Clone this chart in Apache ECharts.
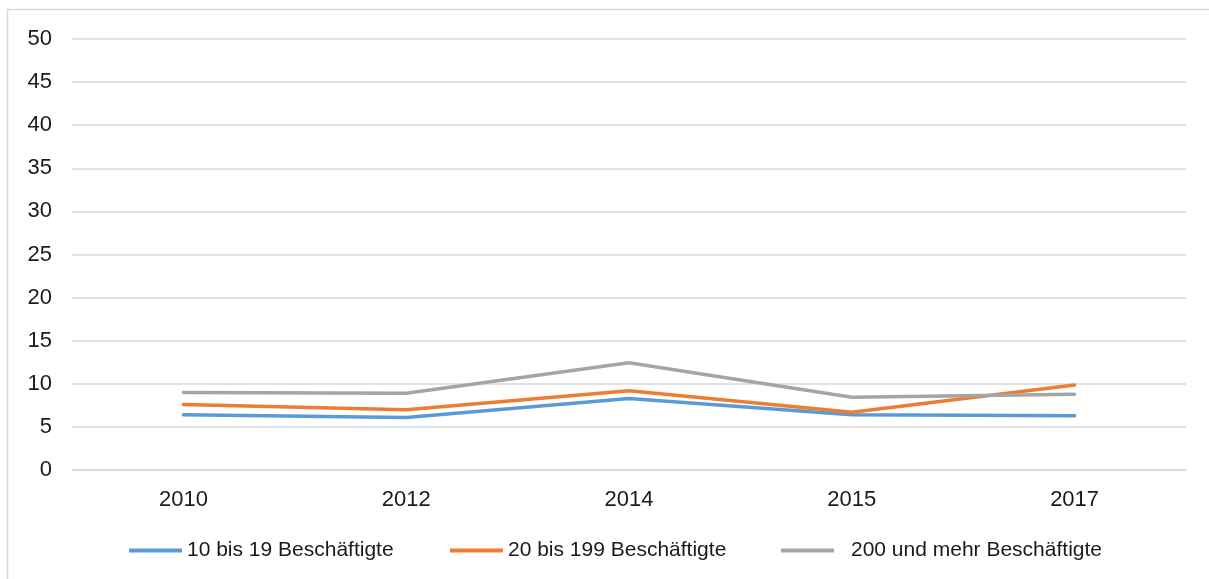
<!DOCTYPE html>
<html>
<head>
<meta charset="utf-8">
<script src="https://cdn.jsdelivr.net/npm/echarts@6/dist/echarts.min.js"></script>
<style>html,body{margin:0;padding:0;background:#fff;}#c{width:1209px;height:579px;}</style>
</head>
<body>
<div id="c"></div>
<script>
const categories = ['2010', '2012', '2014', '2015', '2017'];
const seriesNames = ['10 bis 19 Beschäftigte', '20 bis 199 Beschäftigte', '200 und mehr Beschäftigte'];
const values10to19 = [6.4, 6.1, 8.3, 6.4, 6.3];
const values20to199 = [7.6, 7.0, 9.2, 6.7, 9.85];
const values200plus = [9.0, 8.9, 12.45, 8.45, 8.8];
const yTicks = [0, 5, 10, 15, 20, 25, 30, 35, 40, 45, 50];
const colors = ['#5B9BD5', '#ED7D31', '#A5A5A5'];

const font = '"Liberation Sans", Arial, sans-serif';
const chart = echarts.init(document.getElementById('c'));
const allValues = [values10to19, values20to199, values200plus];

function legendAt(i, left, pad) {
  return {
    data: [seriesNames[i]],
    left: left,
    top: 540,
    icon: 'rect',
    itemWidth: 53,
    itemHeight: 4,
    itemGap: 0,
    padding: 0,
    textStyle: { fontFamily: font, fontSize: 21, color: '#1a1a1a', padding: [0, 0, 0, pad] },
    selectedMode: false
  };
}

chart.setOption({
  animation: false,
  backgroundColor: '#fff',
  color: colors,
  graphic: [{
    type: 'rect',
    shape: { x: 7.5, y: 9.5, width: 1240, height: 600 },
    style: { fill: 'none', stroke: '#d9d9d9', lineWidth: 1.5 },
    silent: true
  }],
  grid: { left: 72, right: 23, top: 39, bottom: 109, containLabel: false },
  legend: [legendAt(0, 129, 0), legendAt(1, 450, 0), legendAt(2, 781, 12)],
  xAxis: {
    type: 'category',
    data: categories,
    boundaryGap: true,
    axisLine: { show: true, lineStyle: { color: '#d9d9d9', width: 1.5 } },
    axisTick: { show: false },
    axisLabel: { fontFamily: font, fontSize: 22, color: '#1a1a1a', margin: 19 }
  },
  yAxis: {
    type: 'value',
    min: yTicks[0],
    max: yTicks[yTicks.length - 1],
    interval: 5,
    axisLine: { show: false },
    axisTick: { show: false },
    axisLabel: { fontFamily: font, fontSize: 22, color: '#1a1a1a', margin: 20 },
    splitLine: { lineStyle: { color: '#d9d9d9', width: 1.5 } }
  },
  series: seriesNames.map((n, i) => ({
    name: n,
    type: 'line',
    data: allValues[i],
    symbol: 'none',
    lineStyle: { width: 3.5, color: colors[i], cap: 'round', join: 'round' },
    itemStyle: { color: colors[i] }
  }))
});
</script>
</body>
</html>
